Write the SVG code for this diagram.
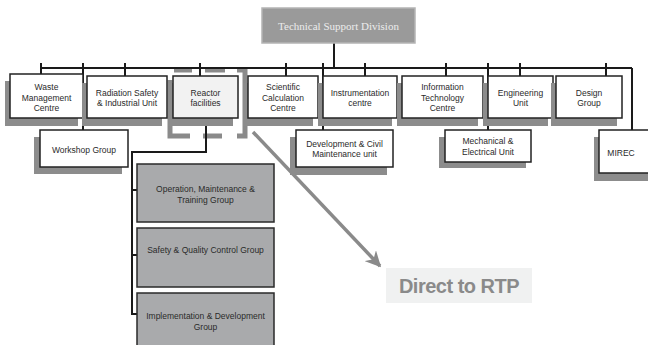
<svg xmlns="http://www.w3.org/2000/svg" width="648" height="345" viewBox="0 0 648 345">
<defs>
<style>
.sh{fill:#8c8c8c}
.bx{fill:#fff;stroke:#222;stroke-width:1.5}
.sub{fill:#a9aaac;stroke:#2a2a2a;stroke-width:1.5}
.t{font-family:"Liberation Sans",Arial,sans-serif;font-size:8.5px;fill:#2a2a2a;text-anchor:middle}
.c{fill:none;stroke:#1a1a1a;stroke-width:2}
.hl{fill:none;stroke:#8a8a8a;stroke-width:5}
</style>
<marker id="ah" viewBox="0 0 10 10" refX="9" refY="5" markerWidth="4.5" markerHeight="4.5" orient="auto" markerUnits="strokeWidth">
<path d="M0,0 L10,5 L0,10 L3,5 Z" fill="#8a8a8a"/>
</marker>
</defs>
<rect width="648" height="345" fill="#fff"/>

<g id="highlight">
<path class="hl" d="M170 80 V136 H190"/>
<path class="hl" d="M174 70 H192"/>
<path class="hl" d="M205 70 H225"/>
<path class="hl" d="M237 70 H245 V136 H237"/>
<path class="hl" d="M203 136 H222"/>
</g>

<g id="connectors">
<path class="c" d="M334 43 V68"/>
<path class="c" d="M41 68 H632"/>
<path class="c" d="M41 63 V74 M83 63 V130 M125 63 V76 M200 63 V76 M286 63 V76 M323 63 V130 M365 63 V76 M446 63 V76 M488 63 V130 M520 63 V76 M606 63 V76 M632 68 V130"/>
<path class="c" d="M206 113 V152 H132 V314 H137 M132 190 H137 M132 255 H137"/>
<line x1="253" y1="132" x2="380" y2="266" stroke="#8a8a8a" stroke-width="3.5" marker-end="url(#ah)"/>
</g>

<g id="division">
<rect x="262" y="8" width="153" height="35" fill="#9a9a9a" stroke="#b4b4b4" stroke-width="1.5"/>
<text x="338.5" y="30" font-family="'Liberation Serif','Times New Roman',serif" font-size="11" fill="#ececec" text-anchor="middle">Technical Support Division</text>
</g>

<g id="waste">
<rect class="sh" x="5" y="81" width="73" height="45"/>
<rect class="bx" x="10" y="74" width="73" height="44"/>
<text class="t" x="46.5" y="90">Waste</text>
<text class="t" x="46.5" y="101">Management</text>
<text class="t" x="46.5" y="111">Centre</text>
</g>

<g id="radiation">
<rect class="sh" x="82" y="83" width="80" height="43"/>
<rect class="bx" x="87" y="76" width="80" height="42"/>
<text class="t" x="127" y="96">Radiation Safety</text>
<text class="t" x="127" y="106">&amp; Industrial Unit</text>
</g>

<g id="reactor">
<rect class="sh" x="168" y="83" width="65" height="43"/>
<rect class="bx" x="173" y="76" width="65" height="42" style="fill:#f2f2f2"/>
<text class="t" x="205.5" y="96">Reactor</text>
<text class="t" x="205.5" y="106">facilities</text>
</g>

<g id="scientific">
<rect class="sh" x="243" y="83" width="70" height="43"/>
<rect class="bx" x="248" y="76" width="70" height="42"/>
<text class="t" x="283" y="90">Scientific</text>
<text class="t" x="283" y="101">Calculation</text>
<text class="t" x="283" y="111">Centre</text>
</g>

<g id="instrumentation">
<rect class="sh" x="318" y="83" width="74" height="43"/>
<rect class="bx" x="323" y="76" width="74" height="42"/>
<text class="t" x="360" y="96">Instrumentation</text>
<text class="t" x="360" y="106">centre</text>
</g>

<g id="infotech">
<rect class="sh" x="397" y="83" width="81" height="43"/>
<rect class="bx" x="402" y="76" width="81" height="42"/>
<text class="t" x="442.5" y="90">Information</text>
<text class="t" x="442.5" y="101">Technology</text>
<text class="t" x="442.5" y="111">Centre</text>
</g>

<g id="engineering">
<rect class="sh" x="483" y="83" width="65" height="43"/>
<rect class="bx" x="488" y="76" width="65" height="42"/>
<text class="t" x="520.5" y="96">Engineering</text>
<text class="t" x="520.5" y="106">Unit</text>
</g>

<g id="design">
<rect class="sh" x="551" y="83" width="66" height="43"/>
<rect class="bx" x="556" y="76" width="66" height="42"/>
<text class="t" x="589" y="96">Design</text>
<text class="t" x="589" y="106">Group</text>
</g>

<g id="workshop">
<rect class="sh" x="34" y="137" width="88" height="37"/>
<rect class="bx" x="40" y="130" width="88" height="37"/>
<text class="t" x="84" y="153">Workshop Group</text>
</g>

<g id="development">
<rect class="sh" x="290" y="137" width="97" height="38"/>
<rect class="bx" x="296" y="130" width="97" height="37"/>
<text class="t" x="344.5" y="147">Development &amp; Civil</text>
<text class="t" x="344.5" y="157">Maintenance unit</text>
</g>

<g id="mechanical">
<rect class="sh" x="439" y="137" width="87" height="31"/>
<rect class="bx" x="445" y="130" width="86" height="32"/>
<text class="t" x="488" y="144">Mechanical &amp;</text>
<text class="t" x="488" y="155">Electrical Unit</text>
</g>

<g id="mirec">
<rect class="sh" x="594" y="137" width="60" height="44"/>
<rect class="bx" x="599" y="130" width="60" height="43"/>
<text class="t" x="621" y="156">MIREC</text>
</g>

<g id="operation">
<rect class="sub" x="137" y="164" width="137" height="58"/>
<text class="t" x="205.5" y="192">Operation, Maintenance &amp;</text>
<text class="t" x="205.5" y="203">Training Group</text>
</g>

<g id="safety">
<rect class="sub" x="137" y="228" width="137" height="59"/>
<text class="t" x="205.5" y="253">Safety &amp; Quality Control Group</text>
</g>

<g id="implementation">
<rect class="sub" x="137" y="293" width="137" height="60"/>
<text class="t" x="205.5" y="319">Implementation &amp; Development</text>
<text class="t" x="205.5" y="330">Group</text>
</g>

<g id="rtp">
<rect x="386" y="268" width="146" height="35" fill="#f0f1f1"/>
<text x="459" y="293" font-family="'Liberation Sans',Arial,sans-serif" font-size="20" font-weight="bold" fill="#8a8a8a" text-anchor="middle" letter-spacing="-0.5">Direct to RTP</text>
</g>
</svg>
